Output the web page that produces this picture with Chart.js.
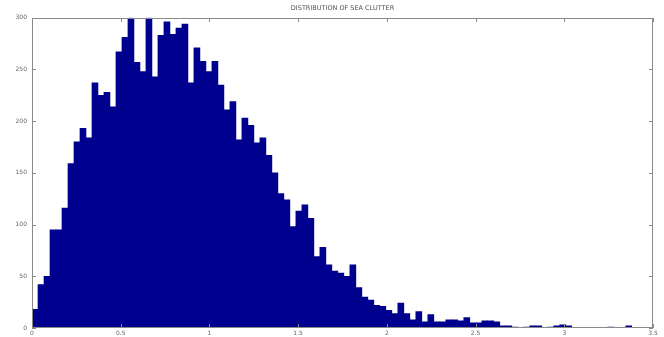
<!DOCTYPE html>
<html>
<head>
<meta charset="utf-8">
<script src="https://cdn.jsdelivr.net/npm/chart.js@4/dist/chart.umd.min.js"></script>
<style>
  html, body { margin: 0; padding: 0; background: #fff; overflow: hidden; }
  #wrap { position: relative; width: 664px; height: 337px; }
</style>
</head>
<body>
<div id="wrap"><canvas id="chartClutter"></canvas></div>
<script>
// histogram of sea clutter amplitude, 100 bins
const counts = [
  18, 42, 50, 95, 95, 116, 159, 180, 193, 184,
  237, 225, 228, 214, 267, 281, 300, 257, 248, 300,
  243, 283, 296, 284, 290, 294, 237, 271, 258, 248,
  258, 235, 211, 219, 182, 203, 196, 179, 184, 167,
  150, 130, 124, 98, 113, 119, 106, 69, 78, 61,
  55, 53, 50, 61, 39, 30, 27, 22, 21, 17,
  14, 24, 14, 8, 16, 6, 13, 6, 6, 8,
  8, 7, 10, 5, 5, 7, 7, 6, 2, 2,
  1, 0, 1, 2, 2, 0, 1, 2, 3, 2,
  0, 0, 0, 0, 0, 0, 1, 0, 0, 2
];
const binStart = 0;
const binWidth = 0.0338;
const xTicks = [0, 0.5, 1, 1.5, 2, 2.5, 3, 3.5];
const yTicks = [0, 50, 100, 150, 200, 250, 300];
const chartTitle = "DISTRIBUTION OF SEA CLUTTER";

const barColor = "#00008f";
const axisColor = "#8a8a8a";
const labelColor = "#666";

// matlab style frame with inward ticks, drawn as filled 1px rects
const framePlugin = {
    id: "frame",
    afterDraw(chart) {
        const { ctx, chartArea: a, scales } = chart;
        const l = Math.round(a.left), t = Math.round(a.top);
        const r = Math.round(a.right), b = Math.round(a.bottom);
        const len = 4;
        ctx.save();
        ctx.fillStyle = axisColor;
        ctx.fillRect(l, t, r - l, 1);
        ctx.fillRect(l, b - 1, r - l, 1);
        ctx.fillRect(l, t, 1, b - t);
        ctx.fillRect(r - 1, t, 1, b - t);
        xTicks.forEach(v => {
            const x = Math.round(scales.x.getPixelForValue(v));
            ctx.fillRect(x, b - len, 1, len);
            ctx.fillRect(x, t, 1, len);
        });
        yTicks.forEach(v => {
            const y = Math.round(scales.y.getPixelForValue(v));
            ctx.fillRect(l, y, len, 1);
            ctx.fillRect(r - len, y, len, 1);
        });
        ctx.restore();
    }
};

new Chart(document.getElementById("chartClutter"), {
    type: "bar",
    data: {
        datasets: [{
            label: "count",
            data: counts.map((c, i) => ({ x: binStart + (i + 0.5) * binWidth, y: c })),
            backgroundColor: barColor,
            borderWidth: 0,
            barPercentage: 1,
            categoryPercentage: 1,
        }]
    },
    options: {
        responsive: true,
        maintainAspectRatio: false,
        animation: false,
        layout: { padding: { left: 0, right: 11, top: 0, bottom: 0 } },
        plugins: {
            legend: { display: false },
            tooltip: { enabled: false },
            title: {
                display: true,
                fullSize: false,
                text: chartTitle,
                color: "#555",
                font: { family: "DejaVu Sans", size: 6.5, weight: "normal" },
                padding: { top: 4, bottom: 6 }
            }
        },
        scales: {
            x: {
                type: "linear",
                min: 0,
                max: 3.5,
                offset: false,
                grid: { display: false, drawTicks: false },
                border: { display: false },
                afterBuildTicks: s => { s.ticks = xTicks.map(v => ({ value: v })); },
                afterFit: s => { s.height = 9; },
                ticks: {
                    color: labelColor,
                    font: { family: "DejaVu Sans", size: 6 },
                    padding: 2,
                    maxRotation: 0,
                    autoSkip: false,
                    callback: v => String(v)
                }
            },
            y: {
                min: 0,
                max: 300,
                grid: { display: false, drawTicks: false },
                border: { display: false },
                afterBuildTicks: s => { s.ticks = yTicks.map(v => ({ value: v })); },
                afterFit: s => { s.width = 32; },
                ticks: {
                    color: labelColor,
                    font: { family: "DejaVu Sans", size: 6 },
                    padding: 5,
                    callback: v => String(v)
                }
            }
        }
    },
    plugins: [framePlugin]
});
</script>
</body>
</html>
